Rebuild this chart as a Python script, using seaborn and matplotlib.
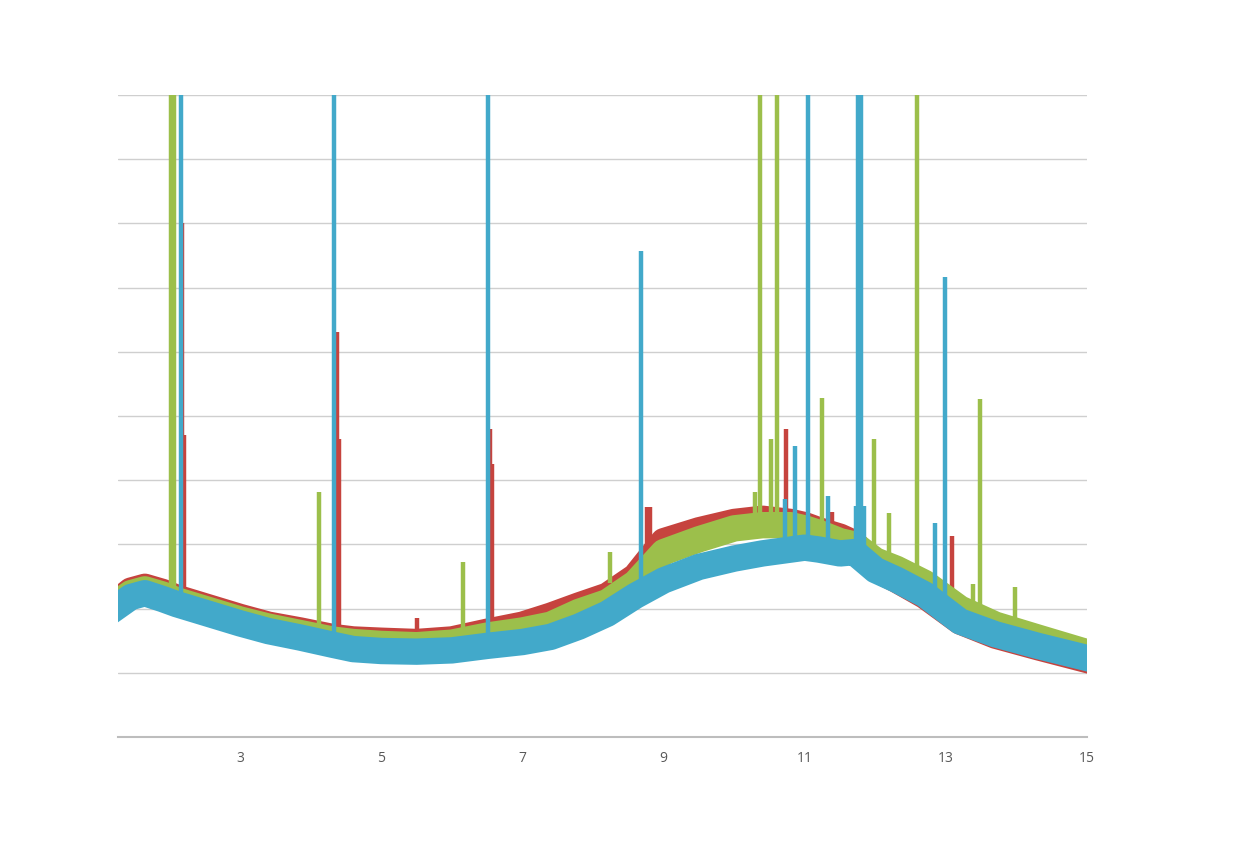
import numpy as np
import pandas as pd
import matplotlib.pyplot as plt
import seaborn as sns

# ── data ────────────────────────────────────────────────────
base_x = [1.27, 1.45, 1.65, 1.9, 2.1, 2.4, 2.7, 3.0, 3.4, 3.85, 4.3, 4.6, 5.0,
          5.5, 6.0, 6.5, 7.0, 7.4, 7.8, 8.2, 8.6, 9.0, 9.5, 10.0, 10.4, 10.8,
          11.0, 11.2, 11.5, 11.7, 12.0, 12.3, 12.7, 13.2, 13.7, 14.3, 15.0]

red_base = [2.12, 2.28, 2.34, 2.26, 2.17, 2.07, 1.97, 1.87, 1.75, 1.66, 1.56,
            1.52, 1.50, 1.48, 1.52, 1.64, 1.75, 1.89, 2.05, 2.20, 2.50, 3.05,
            3.22, 3.35, 3.40, 3.35, 3.30, 3.22, 3.12, 3.02, 2.62, 2.45, 2.20,
            1.80, 1.58, 1.40, 1.20]
green_base = [2.10, 2.24, 2.30, 2.22, 2.13, 2.03, 1.93, 1.83, 1.72, 1.62, 1.52,
              1.48, 1.45, 1.43, 1.47, 1.58, 1.66, 1.75, 1.95, 2.10, 2.40, 2.88,
              3.08, 3.25, 3.30, 3.30, 3.25, 3.18, 3.05, 3.00, 2.75, 2.62, 2.40,
              2.00, 1.75, 1.55, 1.32]
blue_base = [2.04, 2.18, 2.24, 2.15, 2.07, 1.97, 1.87, 1.77, 1.65, 1.55, 1.44,
             1.37, 1.34, 1.33, 1.35, 1.42, 1.48, 1.56, 1.72, 1.92, 2.20, 2.44,
             2.65, 2.78, 2.86, 2.92, 2.95, 2.92, 2.86, 2.88, 2.60, 2.45, 2.22,
             1.80, 1.60, 1.42, 1.23]

# peaks: position, top, foot (foot = level of the band under the peak)
red_pk_x = [2.18, 2.21, 4.37, 4.40, 5.51, 6.54, 6.57, 8.76, 8.80, 10.73, 11.39, 13.09]
red_pk_top = [8.0, 4.7, 6.31, 4.64, 1.85, 4.80, 4.25, 3.58, 3.58, 4.80, 3.50, 3.13]
red_pk_foot = [2.17, 2.17, 1.55, 1.55, 1.48, 1.63, 1.63, 2.60, 2.60, 3.35, 3.20, 1.90]

green_pk_x = [2.02, 2.06, 4.12, 6.16, 8.24, 10.30, 10.37, 10.52, 10.61, 11.25,
              11.98, 12.19, 12.59, 13.38, 13.48, 13.98]
green_pk_top = [12, 12, 3.81, 2.72, 2.88, 3.82, 12, 4.64, 12, 5.28,
                4.64, 3.49, 12, 2.38, 5.26, 2.34]
green_pk_foot = [2.12, 2.12, 1.52, 1.58, 2.40, 3.30, 3.30, 3.30, 3.30, 3.15,
                 2.75, 2.68, 2.45, 1.90, 1.85, 1.65]

blue_pk_x = [2.16, 4.33, 6.51, 8.68, 10.72, 10.86, 11.05, 11.33, 11.72, 11.76,
             11.80, 11.84, 12.85, 12.99]
blue_pk_top = [12, 12, 12, 7.57, 3.70, 4.53, 12, 3.75, 3.60, 12,
               12, 3.60, 3.34, 7.17]
blue_pk_foot = [2.07, 1.45, 1.42, 2.25, 2.90, 2.92, 2.95, 2.90, 2.88, 2.88,
                2.88, 2.70, 2.05, 2.00]

x_ticks = [3, 5, 7, 9, 11, 13, 15]

# ── setup ───────────────────────────────────────────────────
sns.set_style("white")
plt.rcParams["font.family"] = ["Open Sans", "DejaVu Sans"]

colors = {"red": "#C6433E", "green": "#9CBF4B", "blue": "#42A9CA"}

fig = plt.figure(figsize=(12.4, 8.5), dpi=100)
ax = fig.add_axes([0.0952, 0.1329, 0.7815, 0.7553])

series = [
    ("red", red_base, red_pk_x, red_pk_top, red_pk_foot),
    ("green", green_base, green_pk_x, green_pk_top, green_pk_foot),
    ("blue", blue_base, blue_pk_x, blue_pk_top, blue_pk_foot),
]

for name, base, pk_x, pk_top, pk_foot in series:
    df = pd.DataFrame({"x": base_x, "y": base})
    # thick band stands in for the noisy baseline
    sns.lineplot(data=df, x="x", y="y", ax=ax, color=colors[name], lw=19,
                 sort=False, estimator=None, solid_capstyle="projecting",
                 solid_joinstyle="round")
    ax.vlines(pk_x, pk_foot, pk_top, color=colors[name], lw=3.2)

# ── axes styling ────────────────────────────────────────────
ax.set_xlim(1.27, 15)
ax.set_ylim(0, 10)
ax.set_xticks(x_ticks)
ax.set_yticks(range(1, 11))
ax.set_yticklabels([])
ax.grid(axis="y", color="#CFCFCF", lw=1)
ax.set_axisbelow(True)
ax.set_xlabel("")
ax.set_ylabel("")
for side in ["left", "right", "top"]:
    ax.spines[side].set_visible(False)
ax.spines["bottom"].set_color("#BDBDBD")
ax.spines["bottom"].set_linewidth(1.5)
ax.tick_params(axis="x", length=3, color="#BDBDBD", pad=7,
               labelsize=10, labelcolor="#595959")
ax.tick_params(axis="y", length=0)

plt.savefig("out.png", dpi=100)
